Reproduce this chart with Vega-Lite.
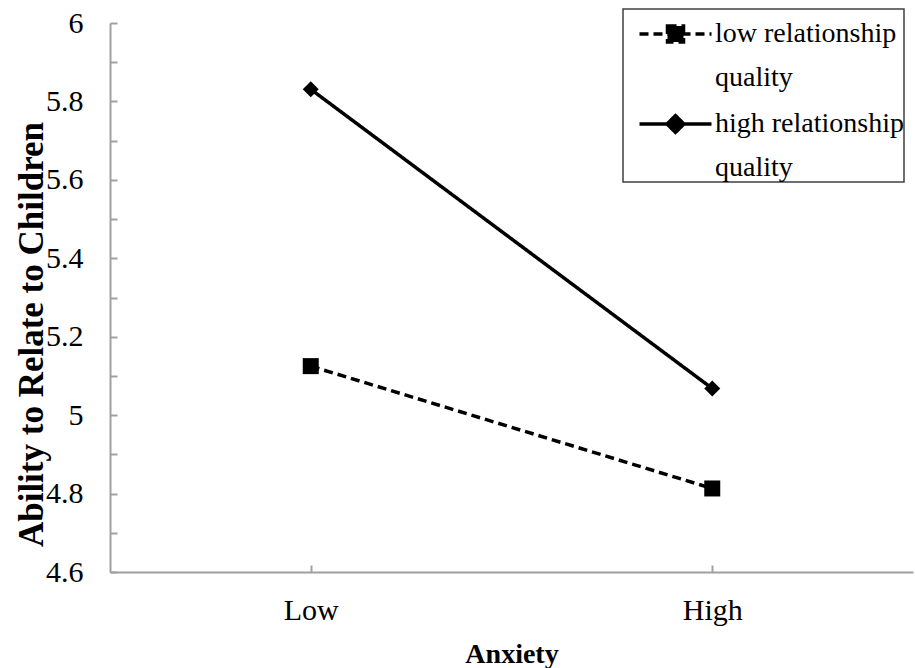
{
  "$schema": "https://vega.github.io/schema/vega-lite/v6.json",
  "width": 803,
  "height": 549,
  "autosize": {"type": "none"},
  "padding": {"left": 110, "top": 23, "right": 2, "bottom": 96},
  "background": "white",
  "config": {
    "view": {"stroke": null},
    "font": "Liberation Serif",
    "axis": {"labelFont": "Liberation Serif", "titleFont": "Liberation Serif"},
    "legend": {"labelFont": "Liberation Serif"}
  },
  "data": {
    "values": [
      {"anxiety": "Low", "group": "low relationship quality", "ability": 5.125},
      {"anxiety": "High", "group": "low relationship quality", "ability": 4.813},
      {"anxiety": "Low", "group": "high relationship quality", "ability": 5.831},
      {"anxiety": "High", "group": "high relationship quality", "ability": 5.068}
    ]
  },
  "encoding": {
    "x": {
      "field": "anxiety",
      "type": "nominal",
      "sort": ["Low", "High"],
      "scale": {"type": "point", "padding": 0.5},
      "axis": {
        "title": "Anxiety",
        "labelAngle": 0,
        "labelFont": "Liberation Serif",
        "labelFontSize": 30,
        "labelColor": "black",
        "labelBaseline": "alphabetic",
        "labelPadding": 54,
        "tickSize": -7,
        "tickColor": "#a0a0a0",
        "tickWidth": 2,
        "domainColor": "#a0a0a0",
        "domainWidth": 2,
        "grid": false,
        "titleFont": "Liberation Serif",
        "titleFontSize": 28,
        "titleFontWeight": "bold",
        "titleColor": "black",
        "titleBaseline": "alphabetic",
        "titleY": 90
      }
    },
    "y": {
      "field": "ability",
      "type": "quantitative",
      "scale": {"domain": [4.6, 6], "nice": false, "zero": false},
      "axis": {
        "title": "Ability to Relate to Children",
        "values": [4.6, 4.7, 4.8, 4.9, 5.0, 5.1, 5.2, 5.3, 5.4, 5.5, 5.6, 5.7, 5.8, 5.9, 6.0],
        "format": "~g",
        "labelExpr": "round(datum.value * 10) % 2 == 0 ? datum.label : ''",
        "labelFont": "Liberation Serif",
        "labelFontSize": 30,
        "labelColor": "black",
        "labelPadding": 34,
        "labelBaseline": "middle",
        "tickSize": -7,
        "tickColor": "#a0a0a0",
        "tickWidth": 2,
        "domainColor": "#a0a0a0",
        "domainWidth": 2,
        "grid": false,
        "titleFont": "Liberation Serif",
        "titleFontSize": 35,
        "titleFontWeight": "bold",
        "titleColor": "black",
        "titleAngle": 270,
        "titleBaseline": "alphabetic",
        "titleAlign": "center",
        "titleX": -68,
        "titleY": 311
      }
    }
  },
  "layer": [
    {
      "mark": {"type": "line", "color": "black", "strokeWidth": 3.5},
      "encoding": {
        "strokeDash": {
          "field": "group",
          "type": "nominal",
          "scale": {
            "domain": ["low relationship quality", "high relationship quality"],
            "range": [[9, 5], [1, 0]]
          },
          "legend": {
            "orient": "none",
            "legendX": 513,
            "legendY": -14,
            "title": "\u00a0",
            "titleFontSize": 1,
            "titlePadding": 10,
            "padding": 0,
            "strokeColor": "#404040",
            "symbolSize": 256,
            "symbolOffset": 38.5,
            "symbolStrokeWidth": 3.5,
            "symbolStrokeColor": "black",
            "symbolFillColor": "black",
            "labelOffset": 25.5,
            "labelFont": "Liberation Serif",
            "labelFontSize": 28,
            "labelColor": "black",
            "labelLimit": 400,
            "labelBaseline": "alphabetic",
            "rowPadding": 16,
            "labelExpr": "[replace(datum.label, ' quality', '') + ' ', 'quality']",
            "encode": {
              "legend": {"update": {"strokeWidth": {"value": 1.5}}},
              "symbols": {
                "update": {
                  "shape": {"signal": "datum.value == 'low relationship quality' ? 'M-4.5,0L4.5,0M-1,-1L1,-1L1,1L-1,1Z' : 'M-4.5,0L4.5,0M0,-1.05L1.05,0L0,1.05L-1.05,0Z'"},
                  "fill": {"value": "black"},
                  "stroke": {"value": "black"},
                  "strokeWidth": {"value": 3.5},
                  "strokeOpacity": {"value": 1},
                  "opacity": {"value": 1}
                }
              },
              "labels": {"update": {"lineHeight": {"value": 44}, "dy": {"value": 8}}}
            }
          }
        }
      }
    },
    {
      "transform": [{"filter": "datum.group == 'low relationship quality'"}],
      "mark": {"type": "point", "filled": true, "color": "black", "size": 256, "opacity": 1, "shape": "square"}
    },
    {
      "transform": [{"filter": "datum.group == 'high relationship quality'"}],
      "mark": {"type": "point", "filled": true, "color": "black", "size": 256, "opacity": 1, "shape": "diamond"}
    }
  ]
}
